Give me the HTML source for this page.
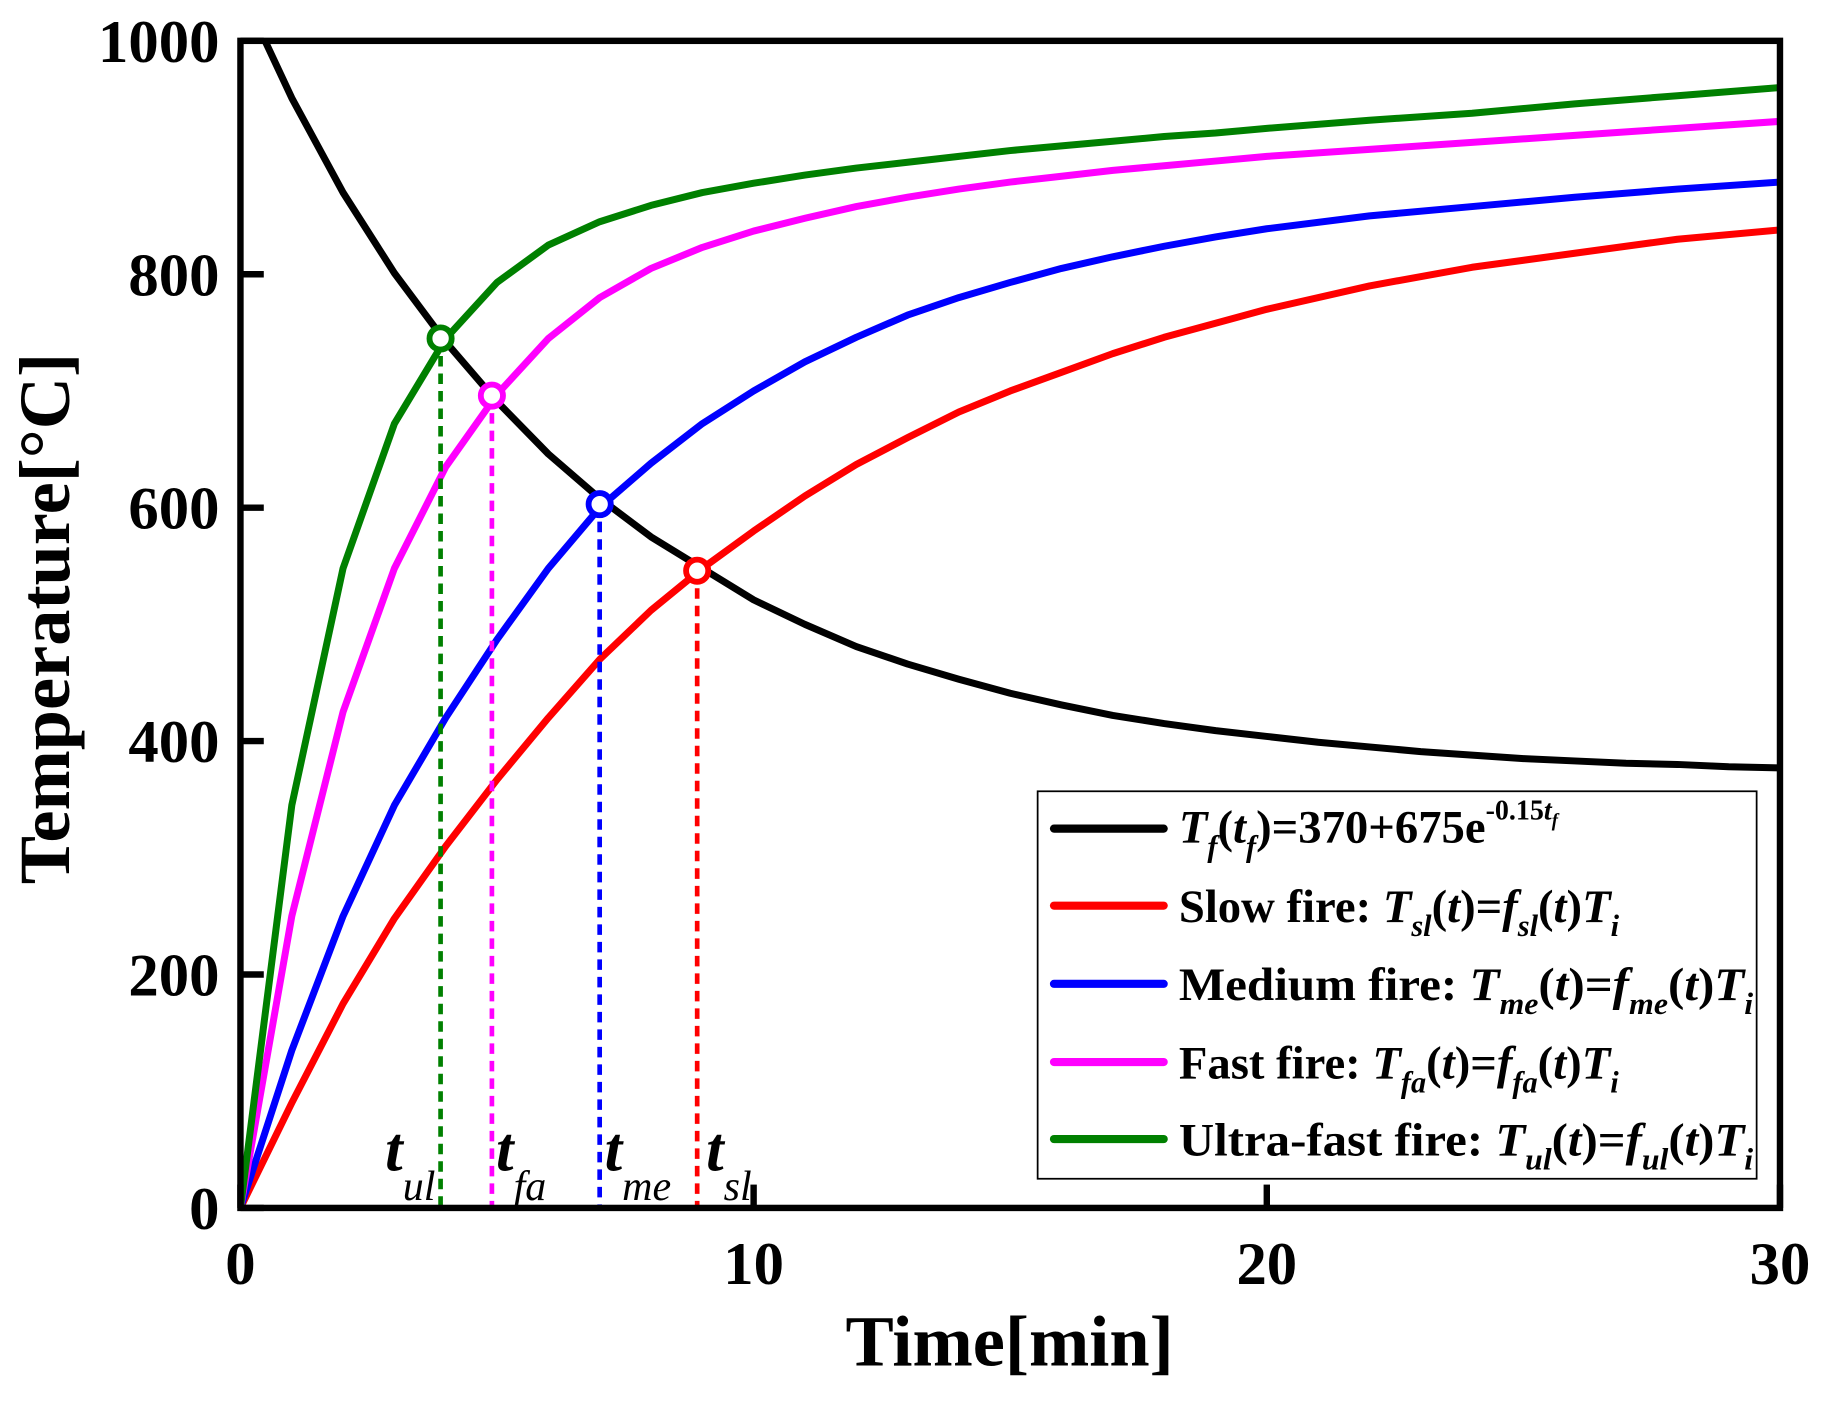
<!DOCTYPE html>
<html><head><meta charset="utf-8"><style>
html,body{margin:0;padding:0;background:#fff}
svg{display:block}
text{font-family:"Liberation Serif",serif;font-weight:bold}
</style></head><body>
<svg id="chart" width="1829" height="1404" viewBox="0 0 1567 1203" preserveAspectRatio="none" xmlns="http://www.w3.org/2000/svg">
<defs><clipPath id="plotclip"><rect x="206" y="35" width="1319" height="1000"/></clipPath></defs>
<g id="series" clip-path="url(#plotclip)"></g>
<g id="marks"></g>
<rect x="206" y="35" width="1319" height="1000" fill="none" stroke="#000" stroke-width="5.5"/>
<g id="axes"></g>
<text x="45" y="530" font-size="62" text-anchor="middle" transform="rotate(-90 45 530)" dominant-baseline="middle">Temperature[°C]</text>
<text x="865" y="1170" font-size="62" text-anchor="middle">Time[min]</text>
<g font-style="italic">
<text x="330" y="1003" font-size="54">t<tspan font-size="36" font-weight="normal" dy="25">ul</tspan></text>
<text x="425" y="1003" font-size="54">t<tspan font-size="36" font-weight="normal" dy="25">fa</tspan></text>
<text x="518" y="1003" font-size="54">t<tspan font-size="36" font-weight="normal" dy="25">me</tspan></text>
<text x="605" y="1003" font-size="54">t<tspan font-size="36" font-weight="normal" dy="25">sl</tspan></text>
</g>
<g>
<rect x="889" y="678" width="616" height="332" fill="#fff" stroke="#000" stroke-width="1.5"/>
<g><line x1="903" y1="710" x2="997" y2="710" stroke="#000" stroke-width="7" stroke-linecap="round"/>
<text x="1010" y="722" font-size="40"><tspan font-style="italic">T</tspan><tspan font-style="italic" font-size="26" dy="12">f</tspan><tspan dy="-12">(</tspan><tspan font-style="italic">t</tspan><tspan font-style="italic" font-size="26" dy="12">f</tspan><tspan dy="-12">)=370+675e</tspan><tspan font-size="24" dy="-20">-0.15</tspan><tspan font-size="24" font-style="italic">t</tspan><tspan font-size="16" font-style="italic" dy="6">f</tspan></text></g>
<g><line x1="903" y1="776" x2="997" y2="776" stroke="#ff0000" stroke-width="7" stroke-linecap="round"/>
<text x="1010" y="790" font-size="40">Slow fire: <tspan font-style="italic">T</tspan><tspan font-style="italic" font-size="26" dy="12">sl</tspan><tspan dy="-12">(</tspan><tspan font-style="italic">t</tspan>)=<tspan font-style="italic">f</tspan><tspan font-style="italic" font-size="26" dy="12">sl</tspan><tspan dy="-12">(</tspan><tspan font-style="italic">t</tspan>)<tspan font-style="italic">T</tspan><tspan font-style="italic" font-size="26" dy="12">i</tspan></text></g>
<g><line x1="903" y1="843" x2="997" y2="843" stroke="#0000ff" stroke-width="7" stroke-linecap="round"/>
<text x="1010" y="857" font-size="40" textLength="492" lengthAdjust="spacingAndGlyphs">Medium fire: <tspan font-style="italic">T</tspan><tspan font-style="italic" font-size="26" dy="12">me</tspan><tspan dy="-12">(</tspan><tspan font-style="italic">t</tspan>)=<tspan font-style="italic">f</tspan><tspan font-style="italic" font-size="26" dy="12">me</tspan><tspan dy="-12">(</tspan><tspan font-style="italic">t</tspan>)<tspan font-style="italic">T</tspan><tspan font-style="italic" font-size="26" dy="12">i</tspan></text></g>
<g><line x1="903" y1="910" x2="997" y2="910" stroke="#ff00ff" stroke-width="7" stroke-linecap="round"/>
<text x="1010" y="924" font-size="40">Fast fire: <tspan font-style="italic">T</tspan><tspan font-style="italic" font-size="26" dy="12">fa</tspan><tspan dy="-12">(</tspan><tspan font-style="italic">t</tspan>)=<tspan font-style="italic">f</tspan><tspan font-style="italic" font-size="26" dy="12">fa</tspan><tspan dy="-12">(</tspan><tspan font-style="italic">t</tspan>)<tspan font-style="italic">T</tspan><tspan font-style="italic" font-size="26" dy="12">i</tspan></text></g>
<g><line x1="903" y1="976" x2="997" y2="976" stroke="#008000" stroke-width="7" stroke-linecap="round"/>
<text x="1010" y="990" font-size="40" textLength="492" lengthAdjust="spacingAndGlyphs">Ultra-fast fire: <tspan font-style="italic">T</tspan><tspan font-style="italic" font-size="26" dy="12">ul</tspan><tspan dy="-12">(</tspan><tspan font-style="italic">t</tspan>)=<tspan font-style="italic">f</tspan><tspan font-style="italic" font-size="26" dy="12">ul</tspan><tspan dy="-12">(</tspan><tspan font-style="italic">t</tspan>)<tspan font-style="italic">T</tspan><tspan font-style="italic" font-size="26" dy="12">i</tspan></text></g>
</g>
</svg>
<script>
const xTicks=[0,10,20,30];
const yTicks=[0,200,400,600,800,1000];
const fireT=[0,1,2,3,4,5,6,7,8,9,10,11,12,13,14,15,16,17,18,19,20,21,22,23,24,25,26,27,28,29,30];
const fireV=[1045,951,870,801,742,691,646,608,575,548,521,500,481,466,453,441,431,422,415,409,404,399,395,391,388,385,383,381,380,378,377];
const curveT=[0,1,2,3,4,5,6,7,8,9,10,11,12,13,14,15,16,17,18,19,20,22,24,26,28,30];
const slowV=[0,90,175,248,310,367,420,470,512,548,580,610,637,660,682,700,716,732,746,758,770,790,806,818,830,838];
const mediumV=[0,135,250,345,420,487,548,600,638,672,700,725,746,765,780,793,805,815,824,832,839,850,858,866,873,879];
const fastV=[0,250,425,548,635,697,745,780,805,823,837,848,858,866,873,879,884,889,893,897,901,907,913,919,925,931];
const ultraV=[0,345,548,672,745,793,825,845,859,870,878,885,891,896,901,906,910,914,918,921,925,932,938,946,953,960];
const crossT=[3.9,4.9,7.0,8.9];
const crossV=[745,696,603,546];
const crossColors=['#008000','#ff00ff','#0000ff','#ff0000'];
const crossNames=['ultrafast','fast','medium','slow'];
const NS='http://www.w3.org/2000/svg';
const X=t=>206+t/30*1319;
const Y=v=>1035-v/1000*1000;
function mk(tag,attrs,parent){const e=document.createElementNS(NS,tag);for(const k in attrs)e.setAttribute(k,attrs[k]);parent.appendChild(e);return e;}
const series=document.getElementById('series');
function line(ts,vs,color,name){
 const d=ts.map((t,i)=>(i?'L':'M')+X(t).toFixed(1)+','+Y(vs[i]).toFixed(1)).join('');
 const p=mk('path',{d:d,fill:'none',stroke:color,'stroke-width':6,'stroke-linejoin':'round'},series);
 
 
}
line(fireT,fireV,'#000','fire-curve');
line(curveT,slowV,'#ff0000','slow-fire-curve');
line(curveT,mediumV,'#0000ff','medium-fire-curve');
line(curveT,fastV,'#ff00ff','fast-fire-curve');
line(curveT,ultraV,'#008000','ultrafast-fire-curve');
const marks=document.getElementById('marks');
crossT.forEach((t,i)=>{
 const l=mk('line',{x1:X(t),y1:Y(crossV[i]),x2:X(t),y2:Y(0),stroke:crossColors[i],'stroke-width':4,'stroke-dasharray':'9,6'},marks);
 
 
 const c=mk('circle',{cx:X(t),cy:Y(crossV[i]),r:9.5,fill:'#fff',stroke:crossColors[i],'stroke-width':5},marks);
 
 
});
const axes=document.getElementById('axes');
xTicks.forEach(t=>{
 const l=mk('line',{x1:X(t),y1:1035,x2:X(t),y2:1015,stroke:'#000','stroke-width':5.5},axes);
 
 
 const tx=mk('text',{x:X(t),y:1100,'font-size':52,'text-anchor':'middle'},axes);
 tx.textContent=t;
 
 
});
yTicks.forEach(v=>{
 const l=mk('line',{x1:206,y1:Y(v),x2:226,y2:Y(v),stroke:'#000','stroke-width':5.5},axes);
 
 
 const tx=mk('text',{x:188,y:Y(v)+18,'font-size':52,'text-anchor':'end'},axes);
 tx.textContent=v;
 
 
});
</script>
</body></html>
